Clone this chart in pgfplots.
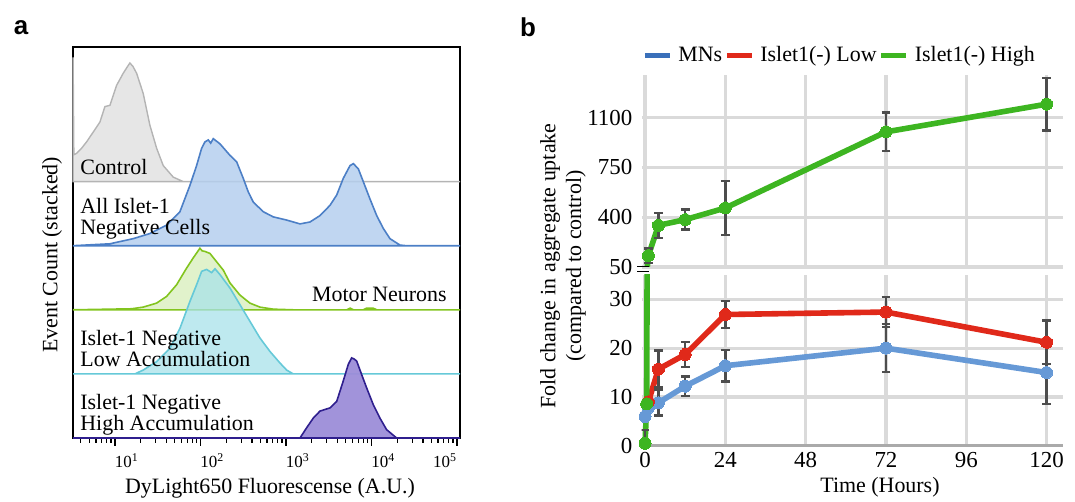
\documentclass[border=0pt]{standalone}
\usepackage{fontspec}
\setmainfont{Liberation Serif}
\newfontfamily\lsans{Liberation Sans}
\usepackage{pgfplots}
\pgfplotsset{compat=1.18}
\usepackage{pgfplotstable}

\definecolor{ctrlfill}{HTML}{E3E3E3}
\definecolor{ctrlline}{HTML}{B4B4B4}
\definecolor{allfill}{HTML}{B5CFEE}
\definecolor{allline}{HTML}{4C7FC6}
\definecolor{mnfill}{HTML}{DCF0C2}
\definecolor{mnline}{HTML}{82C41E}
\definecolor{lowfill}{HTML}{A8E2E9}
\definecolor{lowline}{HTML}{66C9D8}
\definecolor{highfill}{HTML}{9C8DD8}
\definecolor{highline}{HTML}{2F1F8E}
\definecolor{gridgray}{HTML}{DADADA}
\definecolor{axgray}{HTML}{AAAAAA}
\definecolor{errgray}{HTML}{4D4D4D}
\definecolor{bblue}{HTML}{6699D6}
\definecolor{legblue}{HTML}{3A70BA}
\definecolor{bred}{HTML}{E0291A}
\definecolor{bgreen}{HTML}{3DB521}

\pgfplotstableread{
lx h
0.510 0
0.511 1.94
0.520 0.42
0.552 0.44
0.610 0.52
0.669 0.62
0.750 0.78
0.825 0.93
0.883 1.17
0.942 1.19
1.019 1.50
1.097 1.69
1.140 1.78
1.175 1.85
1.210 1.80
1.254 1.69
1.331 1.375
1.409 0.88
1.488 0.52
1.565 0.25
1.682 0.07
1.800 0
5.035 0
}\ctrl

\pgfplotstableread{
lx h
0.510 0
0.942 0.03
1.214 0.11
1.409 0.19
1.604 0.32
1.760 0.53
1.877 0.94
1.955 1.25
2.014 1.52
2.053 1.62
2.092 1.65
2.120 1.60
2.150 1.67
2.228 1.59
2.345 1.41
2.423 1.31
2.501 1.05
2.559 0.84
2.618 0.68
2.735 0.53
2.851 0.45
3.008 0.40
3.164 0.34
3.281 0.37
3.398 0.47
3.515 0.63
3.593 0.79
3.670 1.05
3.749 1.25
3.788 1.28
3.846 1.20
3.904 1.00
3.982 0.73
4.061 0.47
4.138 0.27
4.216 0.11
4.333 0.01
4.410 0
5.035 0
}\allneg

\pgfplotstableread{
lx h
0.510 0
1.195 0.016
1.331 0.042
1.487 0.104
1.604 0.208
1.721 0.39
1.838 0.65
1.916 0.81
1.994 0.96
2.020 0.92
2.053 0.91
2.111 0.88
2.189 0.75
2.267 0.62
2.345 0.42
2.462 0.23
2.579 0.104
2.696 0.042
2.851 0.01
3.085 0
3.710 0
3.749 0.026
3.790 0
3.904 0
3.944 0.026
4.020 0.026
4.060 0
5.035 0
}\mn

\pgfplotstableread{
lx h
0.510 0
1.234 0
1.331 0.06
1.487 0.19
1.643 0.40
1.760 0.71
1.877 1.13
1.955 1.39
2.014 1.60
2.072 1.63
2.131 1.58
2.170 1.64
2.228 1.55
2.345 1.34
2.462 1.08
2.579 0.82
2.696 0.56
2.813 0.35
2.930 0.17
3.008 0.06
3.085 0
5.035 0
}\low

\pgfplotstableread{
lx h
0.510 0
3.164 0
3.242 0.16
3.319 0.31
3.398 0.42
3.515 0.47
3.593 0.57
3.670 0.89
3.729 1.15
3.768 1.25
3.800 1.23
3.827 1.20
3.885 0.99
3.944 0.78
4.021 0.52
4.099 0.31
4.177 0.13
4.294 0
5.035 0
}\high

\pgfplotsset{
  ser/.style={color=#1, line width=2.8bp, mark=*, mark size=3bp,
    mark options={fill=#1, draw=#1, line width=0pt}, forget plot},
  ebars/.style={draw=none, mark=none, forget plot,
    error bars/.cd, y dir=both, y explicit,
    error bar style={draw=errgray, line width=1.2bp, solid},
    error mark options={draw=errgray, rotate=90, mark size=2.2bp, line width=1.2bp}},
  bax/.style={scale only axis, width=210.8bp, anchor=south west,
    xmin=-1, xmax=125, xtick={0,24,48,72,96,120},
    grid=major, major grid style={line width=1.6bp, color=gridgray},
    tick style={draw=none}, major tick length=0pt,
    ticklabel style={font=\fontsize{11.5}{13}\selectfont},
    /pgf/number format/assume math mode=true,
    /pgf/number format/1000 sep={},
    yticklabel style={xshift=-1.2bp},
    clip=true},
}

\begin{document}
\begin{tikzpicture}
\useasboundingbox (0,0) rectangle (537.5bp,251bp);

% ---------------- panel a
\begin{axis}[at={(36.5bp,32bp)}, anchor=south west, scale only axis,
  width=193.5bp, height=195.5bp,
  xmin=0.51, xmax=5.035, ymin=0, ymax=6.1,
  ytick=\empty, xtick={1,2,3,4,5},
  xticklabels={\makebox[0pt][l]{10\textsuperscript{1}},\makebox[0pt][l]{10\textsuperscript{2}},\makebox[0pt][l]{10\textsuperscript{3}},\makebox[0pt][l]{10\textsuperscript{4}},\makebox[0pt][r]{10\textsuperscript{5}}},
  minor xtick={0.602,0.699,0.778,0.845,0.903,0.954,
    1.301,1.477,1.602,1.699,1.778,1.845,1.903,1.954,
    2.301,2.477,2.602,2.699,2.778,2.845,2.903,2.954,
    3.301,3.477,3.602,3.699,3.778,3.845,3.903,3.954,
    4.301,4.477,4.602,4.699,4.778,4.845,4.903,4.954},
  xtick pos=bottom, tick align=outside,
  major tick length=4bp, minor tick length=2.5bp,
  every tick/.style={black, line width=0.6bp},
  axis line style={line width=0.9bp},
  xticklabel style={font=\fontsize{8.5}{9}\selectfont, yshift=-0.5bp},
  clip=false]
\addplot[draw=ctrlline, fill=ctrlfill, line width=0.7bp, fill opacity=0.9] table[x=lx, y expr=\thisrow{h}+4] {\ctrl} -- cycle;
\addplot[draw=allline, fill=allfill, line width=0.8bp, fill opacity=0.85] table[x=lx, y expr=\thisrow{h}+3] {\allneg} -- cycle;
\addplot[draw=mnline, fill=mnfill, line width=0.8bp, fill opacity=0.85] table[x=lx, y expr=\thisrow{h}+2] {\mn} -- cycle;
\addplot[draw=lowline, fill=lowfill, line width=0.8bp, fill opacity=0.75] table[x=lx, y expr=\thisrow{h}+1] {\low} -- cycle;
\addplot[draw=highline, fill=highfill, line width=0.8bp, fill opacity=0.95] table[x=lx, y expr=\thisrow{h}] {\high} -- cycle;
\end{axis}

\begin{scope}[font=\fontsize{11}{13}\selectfont]
\node[anchor=base west, inner sep=0] at (40bp,163.5bp) {Control};
\node[anchor=base west, inner sep=0] at (40bp,144.3bp) {All Islet-1};
\node[anchor=base west, inner sep=0] at (40bp,133.5bp) {Negative Cells};
\node[anchor=base east, inner sep=0] at (223.5bp,100.2bp) {Motor Neurons};
\node[anchor=base west, inner sep=0] at (40bp,78bp) {Islet-1 Negative};
\node[anchor=base west, inner sep=0] at (40bp,67.5bp) {Low Accumulation};
\node[anchor=base west, inner sep=0] at (40bp,46bp) {Islet-1 Negative};
\node[anchor=base west, inner sep=0] at (40bp,35.7bp) {High Accumulation};
\node[rotate=90] at (26bp,123.5bp) {Event Count (stacked)};
\node at (135bp,7bp) {DyLight650 Fluorescense (A.U.)};
\node at (440bp,7.5bp) {Time (Hours)};
\node[rotate=90, align=center, font=\fontsize{11}{13}\selectfont] at (281.5bp,118bp) {Fold change in aggregate uptake\\(compared to control)};
\end{scope}
\node[font=\lsans\bfseries\fontsize{13}{15}\selectfont] at (10.5bp,237bp) {a};
\node[font=\lsans\bfseries\fontsize{13}{15}\selectfont] at (264bp,237.5bp) {b};

% ---------------- panel b, upper
\begin{axis}[bax, at={(320.85bp,117.5bp)}, height=96bp,
  ymin=50, ymax=1400, ytick={50,400,750,1100}, xticklabels={},
  axis line style={draw=none},
  legend style={at={(0.47,1)}, anchor=south, yshift=3bp, draw=none, fill=none,
    font=\fontsize{11}{13}\selectfont, legend columns=3, inner sep=0pt,
    nodes={inner xsep=1.2bp},
    /tikz/every even column/.append style={column sep=0bp},
    /tikz/every odd column/.append style={column sep=2bp}},
  legend image code/.code={\draw[#1, line width=2.2bp] (0bp,0bp) -- (12.5bp,0bp);}]
\addlegendimage{color=legblue}\addlegendentry{MNs}
\addlegendimage{color=bred}\addlegendentry{Islet1(-) Low}
\addlegendimage{color=bgreen}\addlegendentry{Islet1(-) High}
\addplot[ser=bgreen] coordinates {(0,0.5) (0.5,8.6) (1,130) (4,343) (12,383) (24,465) (72,1000) (120,1195)};
\addplot[ebars] coordinates {(1,130) +- (0,50) (4,343) +- (0,87) (12,383) +- (0,70) (24,465) +- (0,190) (72,1000) +- (0,135) (120,1195) +- (0,185)};
\end{axis}

% ---------------- panel b, lower
\begin{axis}[bax, at={(320.85bp,28.15bp)}, height=85.35bp,
  ymin=0, ymax=35, ytick={0,10,20,30},
  axis x line=bottom, axis y line=left,
  x axis line style={draw=axgray, line width=1.2bp, -},
  y axis line style={draw=none}]
\addplot[ser=bblue] coordinates {(0,6.0) (1,7.8) (4,8.8) (12,12.2) (24,16.4) (72,20.0) (120,15.0)};
\addplot[ser=bred] coordinates {(1,9.0) (4,15.7) (12,18.7) (24,26.9) (72,27.4) (120,21.2)};
\addplot[ser=bgreen] coordinates {(0,0.5) (0.5,8.6) (1,130) (4,343) (12,383)};
\addplot[ebars] coordinates {(4,8.8) +- (0,2.6) (12,12.2) +- (0,2.0) (24,16.4) +- (0,3.2) (72,20.0) +- (0,4.9) (120,15.0) +- (0,6.5)};
\addplot[ebars] coordinates {(4,15.7) +- (0,3.8) (12,18.7) +- (0,2.6) (24,26.9) +- (0,2.8) (72,27.4) +- (0,3.1) (120,21.2) +- (0,4.5)};
\addplot[ebars] coordinates {(0,0.5) +- (0,2.7)};
\end{axis}

\draw[line width=0.7bp] (318.5bp,117.8bp) -- (324.5bp,117.8bp);
\draw[line width=0.7bp] (318.5bp,115.2bp) -- (324.5bp,115.2bp);
\end{tikzpicture}
\end{document}
